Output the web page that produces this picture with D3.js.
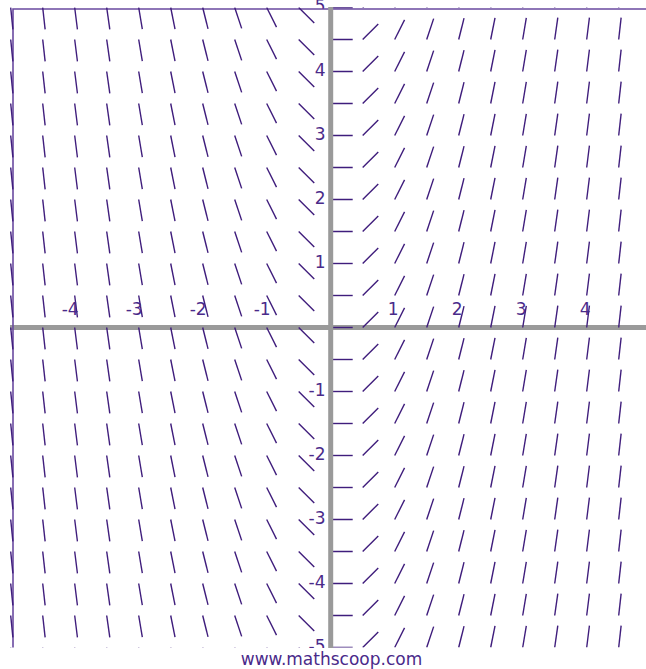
<!DOCTYPE html>
<html>
<head>
<meta charset="utf-8">
<script src="https://cdn.jsdelivr.net/npm/d3@7"></script>
<style>
  body { margin: 0; background: #fff; }
  svg { display: block; }
</style>
</head>
<body>
<svg class="slope-field"></svg>
<script>
// grid points of the slope field (one segment per point)
const xValues = [-5, -4.5, -4, -3.5, -3, -2.5, -2, -1.5, -1, -0.5, 0, 0.5, 1, 1.5, 2, 2.5, 3, 3.5, 4, 4.5];
const yValues = [-5, -4.5, -4, -3.5, -3, -2.5, -2, -1.5, -1, -0.5, 0, 0.5, 1, 1.5, 2, 2.5, 3, 3.5, 4, 4.5, 5];
// slope read for each column (same order as xValues)
const slopes = [-10, -9, -8, -7, -6, -5, -4, -3, -2, -1, 0, 1, 2, 3, 4, 5, 6, 7, 8, 9];
// axis labels
const xTickValues = [-4, -3, -2, -1, 1, 2, 3, 4];
const yTickValues = [-5, -4, -3, -2, -1, 1, 2, 3, 4, 5];
const watermark = "www.mathscoop.com";

document.addEventListener("DOMContentLoaded", () => {
    drawField();
});

function drawField() {
    let svgWidth = 646, svgHeight = 669;
    let purple = "#3f1d7c";
    let labelColor = "#4a2a8a";
    let font = "'DejaVu Sans', Verdana, sans-serif";

    let svg = d3.select(".slope-field")
        .attr("width", svgWidth)
        .attr("height", svgHeight);

    // 64px per unit on both axes
    let x = d3.scaleLinear().domain([-5, 5]).range([10.7, 650.7]);
    let y = d3.scaleLinear().domain([-5, 5]).range([647.5, 7.5]);

    let defs = svg.append("defs");
    defs.append("clipPath").attr("id", "plot-clip")
        .append("rect")
        .attr("x", 10).attr("y", 7.3)
        .attr("width", svgWidth - 10).attr("height", 647.6 - 7.3);
    defs.append("clipPath").attr("id", "label-clip")
        .append("rect")
        .attr("x", 0).attr("y", 0)
        .attr("width", svgWidth).attr("height", 648);

    // x axis (gray bar)
    svg.append("line")
        .attr("x1", 10).attr("x2", svgWidth)
        .attr("y1", y(0)).attr("y2", y(0))
        .attr("stroke", "#9a9a9a")
        .attr("stroke-width", 5);

    // y labels left of the axis (drawn first so the frame covers the top one)
    svg.append("g")
        .attr("clip-path", "url(#label-clip)")
        .selectAll("text")
        .data(yTickValues)
        .enter().append("text")
        .attr("x", 325.5)
        .attr("y", d => y(d) + 4)
        .attr("text-anchor", "end")
        .attr("font-family", font)
        .attr("font-size", 17)
        .attr("fill", labelColor)
        .text(d => d);

    // white band under the top frame hides the lower part of the "5"
    svg.append("rect")
        .attr("x", 14).attr("y", 9)
        .attr("width", 316).attr("height", 6)
        .attr("fill", "#fff");

    // frame on left and top
    svg.append("path")
        .attr("d", "M" + 13 + "," + 647.5 + "V" + 9 + "H" + svgWidth)
        .attr("fill", "none")
        .attr("stroke", "#6a4aa0")
        .attr("stroke-width", 1.6);

    // slope segments, start at grid point and go right
    let segLen = 22 / 64;
    let points = [];
    xValues.forEach((xv, i) => {
        yValues.forEach(yv => {
            points.push({ x: xv, y: yv, m: slopes[i] });
        });
    });

    svg.append("g")
        .attr("clip-path", "url(#plot-clip)")
        .selectAll("line")
        .data(points)
        .enter().append("line")
        .attr("x1", d => x(d.x))
        .attr("y1", d => y(d.y))
        .attr("x2", d => x(d.x + segLen / Math.sqrt(1 + d.m * d.m)))
        .attr("y2", d => y(d.y + d.m * segLen / Math.sqrt(1 + d.m * d.m)))
        .attr("stroke", purple)
        .attr("stroke-width", 1.4);

    // y axis (gray bar) drawn over the zero column
    svg.append("line")
        .attr("x1", x(0)).attr("x2", x(0))
        .attr("y1", 7).attr("y2", 648)
        .attr("stroke", "#9a9a9a")
        .attr("stroke-width", 5);

    // x labels above the axis, digit centred on tick
    svg.append("g")
        .selectAll("text")
        .data(xTickValues)
        .enter().append("text")
        .attr("x", d => x(d) + 4)
        .attr("y", y(0) - 13)
        .attr("text-anchor", "end")
        .attr("font-family", font)
        .attr("font-size", 17)
        .attr("fill", labelColor)
        .text(d => d);

    svg.append("text")
        .attr("x", 331.5)
        .attr("y", 665)
        .attr("text-anchor", "middle")
        .attr("font-family", font)
        .attr("font-size", 17)
        .attr("fill", labelColor)
        .text(watermark);
}
</script>
</body>
</html>
